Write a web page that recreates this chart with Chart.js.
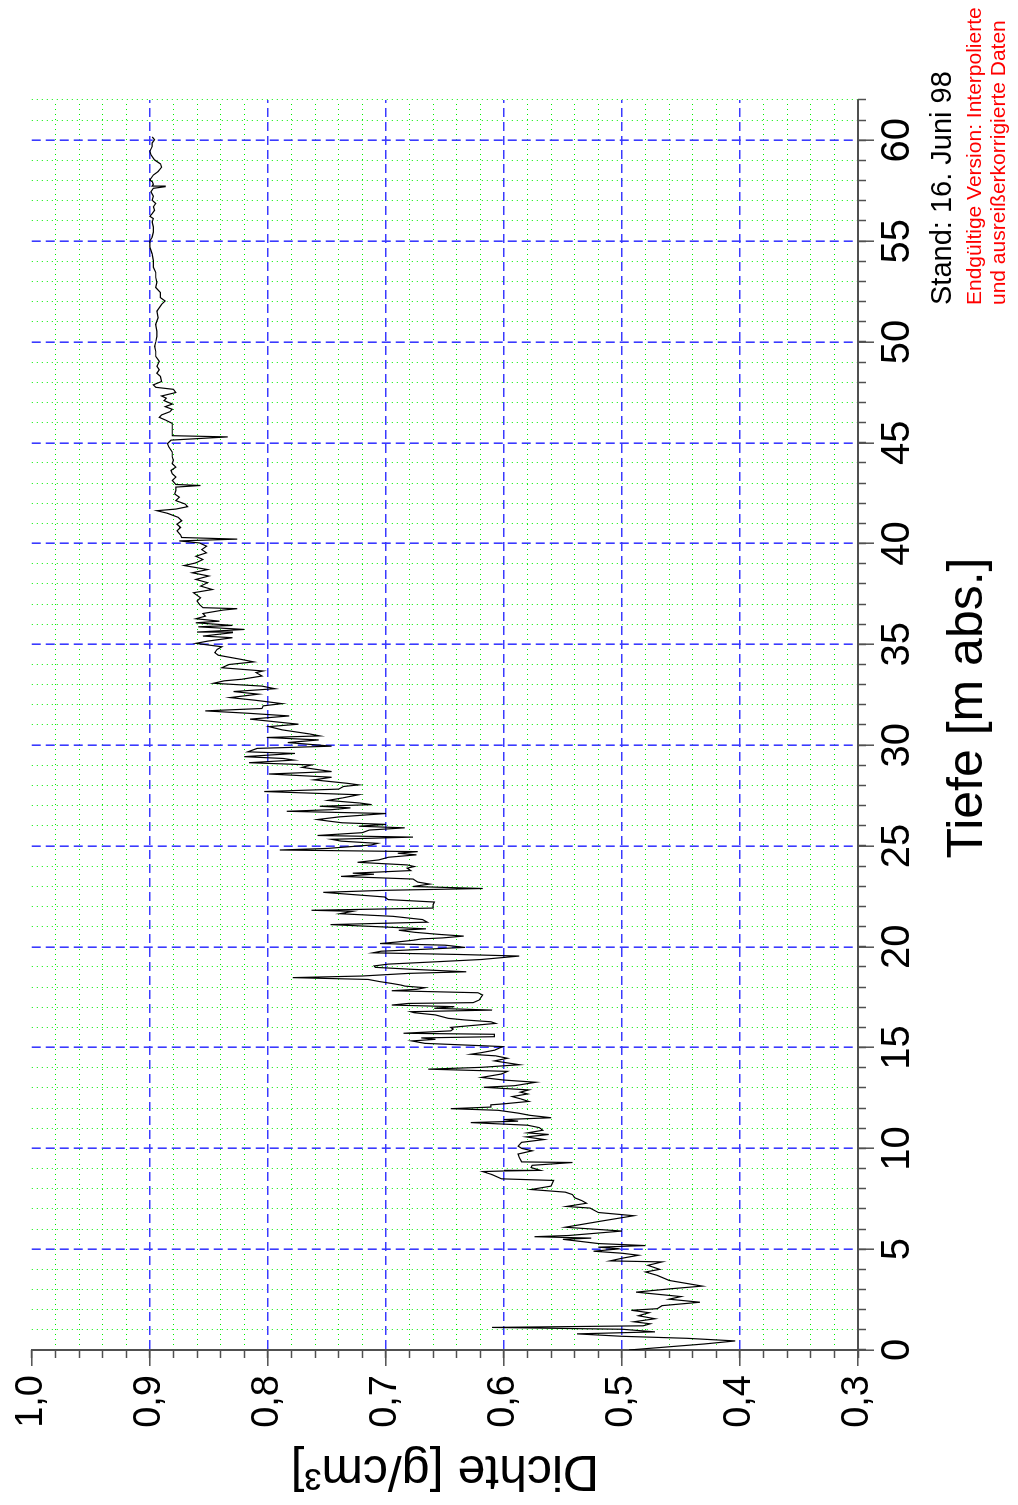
<!DOCTYPE html>
<html>
<head>
<meta charset="utf-8">
<script src="https://cdn.jsdelivr.net/npm/chart.js@4.4.1/dist/chart.umd.min.js"></script>
<style>
html,body{margin:0;padding:0;width:1018px;height:1505px;overflow:hidden;background:#fff;}
#wrap{position:absolute;left:0;top:0;width:1505px;height:1018px;transform-origin:0 0;transform:translateY(1505px) rotate(-90deg);}
#c{position:absolute;left:0;top:0;}
.note{position:absolute;white-space:nowrap;line-height:1;font-family:'Liberation Sans',Arial,Helvetica,sans-serif;}
</style>
</head>
<body>
<div id="wrap">
  <canvas id="c" width="1505" height="1018"></canvas>
  <div class="note" id="xtitle" style="left:497px;width:600px;text-align:center;top:940px;font-size:50px;color:#000;"></div>
  <div class="note" style="left:1200px;top:927px;font-size:29px;color:#000;">Stand: 16. Juni 98</div>
  <div class="note" style="left:1200px;top:963px;font-size:21px;color:#f00;">Endgültige Version: Interpolierte</div>
  <div class="note" style="left:1200px;top:987px;font-size:21px;color:#f00;">und ausreißerkorrigierte Daten</div>
</div>
<script>
// Depth [m abs.] of each sample
const depth = [
0,0.15,0.3,0.45,0.58,0.68,0.8,0.9,1.03,1.12,
1.2,1.3,1.4,1.55,1.7,1.85,1.97,2.05,2.2,2.37,
2.52,2.65,2.87,3.03,3.17,3.3,3.45,3.7,3.87,4,
4.2,4.37,4.42,4.55,4.7,4.8,4.9,5.02,5.1,5.18,
5.28,5.49,5.55,5.62,5.68,5.9,6.09,6.37,6.66,6.82,
7.04,7.12,7.28,7.41,7.55,7.71,7.83,7.96,8.13,8.41,
8.49,8.7,8.85,8.88,8.91,9.05,9.16,9.3,9.33,9.55,
9.72,9.88,10,10.11,10.3,10.44,10.57,10.69,10.77,10.9,
11.03,11.15,11.28,11.35,11.43,11.52,11.64,11.75,11.89,11.97,
12.05,12.16,12.21,12.33,12.46,12.57,12.7,12.79,12.9,13.03,
13.11,13.28,13.39,13.52,13.69,13.82,13.93,14.02,14.15,14.34,
14.47,14.59,14.67,14.75,14.87,15.05,15.12,15.21,15.33,15.41,
15.48,15.54,15.66,15.71,15.83,15.92,16,16.2,16.28,16.37,
16.45,16.62,16.73,16.78,16.86,16.95,17.03,17.11,17.19,17.23,
17.36,17.44,17.61,17.72,17.82,17.89,17.97,18.05,18.1,18.18,
18.27,18.38,18.47,18.55,18.68,18.76,18.88,18.98,19.05,19.14,
19.26,19.37,19.54,19.62,19.7,19.78,19.87,19.97,20.08,20.16,
20.24,20.33,20.39,20.44,20.53,20.61,20.72,20.82,20.89,20.95,
21.1,21.22,21.35,21.51,21.64,21.76,21.81,21.92,22.09,22.22,
22.34,22.47,22.7,22.8,22.89,22.99,23.11,23.21,23.36,23.49,
23.6,23.65,23.78,23.9,23.98,24.06,24.19,24.31,24.44,24.56,
24.64,24.72,24.8,24.88,25.05,25.13,25.24,25.33,25.44,25.52,
25.66,25.79,25.9,25.98,26.07,26.15,26.23,26.31,26.44,26.61,
26.72,26.8,26.89,26.97,27.05,27.13,27.26,27.38,27.54,27.7,
27.82,27.95,28.03,28.11,28.28,28.41,28.57,28.69,28.9,29.02,
29.13,29.26,29.34,29.43,29.59,29.67,29.84,29.95,30.13,30.26,
30.38,30.46,30.56,30.76,30.92,31.04,31.29,31.45,31.58,31.7,
31.82,31.95,32.06,32.23,32.36,32.53,32.66,32.8,32.93,33.07,
33.19,33.27,33.43,33.6,33.68,33.84,34,34.13,34.26,34.46,
34.59,34.75,34.88,35.05,35.16,35.33,35.41,35.58,35.61,35.74,
35.87,35.94,36.07,36.15,36.27,36.4,36.53,36.7,36.77,36.82,
36.98,37.15,37.31,37.56,37.72,37.89,38.06,38.22,38.39,38.55,
38.71,38.91,39.04,39.21,39.37,39.54,39.7,39.87,40.03,40.13,
40.22,40.3,40.43,40.63,40.8,40.96,41.13,41.3,41.5,41.63,
41.71,41.83,41.96,42.13,42.3,42.46,42.63,42.8,42.88,42.93,
43.13,43.3,43.46,43.63,43.79,43.96,44.13,44.3,44.54,44.8,
44.96,45.13,45.29,45.35,45.62,45.79,45.96,46.13,46.26,46.38,
46.54,46.66,46.79,46.92,47.09,47.21,47.32,47.49,47.65,47.75,
47.87,48.04,48.29,48.45,48.62,48.79,49.04,49.28,49.53,49.78,
50,50.27,50.53,50.87,51.2,51.53,51.87,52.03,52.2,52.45,
52.7,52.95,53.2,53.45,53.7,54.03,54.37,54.7,55,55.2,
55.45,55.7,55.95,56.12,56.23,56.37,56.53,56.7,56.87,57.03,
57.23,57.45,57.62,57.7,57.73,57.82,57.95,58.03,58.28,58.45,
58.67,58.83,59.03,59.28,59.45,59.7,59.87,60.03,60.17
];
// Density [g/cm3] of each sample
const density = [
.494,.462,.43,.404,.445,.5,.538,.472,.5,.61,
.482,.476,.49,.472,.486,.477,.492,.47,.466,.434,
.46,.45,.488,.46,.432,.445,.46,.47,.48,.468,
.478,.466,.51,.5,.486,.5,.524,.502,.52,.48,
.52,.55,.526,.574,.545,.5,.548,.52,.49,.52,
.527,.547,.53,.534,.54,.542,.548,.577,.56,.558,
.602,.61,.618,.6,.569,.577,.576,.542,.585,.587,
.588,.576,.585,.588,.585,.566,.581,.562,.58,.567,
.57,.58,.628,.588,.6,.56,.578,.588,.605,.645,
.611,.611,.6,.579,.586,.593,.58,.586,.579,.617,
.591,.573,.6,.619,.602,.597,.664,.619,.587,.608,
.597,.607,.628,.619,.608,.601,.63,.667,.678,.658,
.67,.608,.608,.685,.645,.643,.645,.607,.611,.633,
.647,.658,.676,.679,.61,.659,.642,.695,.681,.626,
.621,.62,.618,.622,.695,.674,.667,.684,.687,.695,
.705,.715,.779,.72,.681,.632,.677,.709,.71,.698,
.656,.619,.587,.639,.711,.704,.67,.633,.65,.705,
.69,.676,.67,.652,.634,.654,.676,.689,.666,.689,
.747,.665,.669,.694,.739,.728,.763,.66,.66,.659,
.698,.701,.753,.701,.618,.677,.663,.673,.677,.738,
.71,.728,.679,.682,.676,.682,.724,.706,.698,.674,
.69,.673,.79,.749,.712,.707,.738,.746,.677,.758,
.72,.714,.684,.723,.7,.737,.748,.758,.74,.7,
.784,.746,.73,.756,.712,.722,.749,.737,.723,.803,
.74,.736,.723,.733,.761,.746,.799,.746,.771,.763,
.816,.778,.787,.82,.777,.817,.809,.746,.783,.757,
.801,.756,.765,.788,.799,.774,.815,.782,.816,.853,
.805,.804,.788,.811,.832,.808,.829,.794,.805,.846,
.837,.822,.805,.81,.804,.839,.833,.812,.823,.842,
.845,.843,.839,.861,.851,.83,.855,.83,.86,.82,
.859,.83,.861,.841,.861,.853,.855,.838,.826,.855,
.858,.86,.857,.863,.847,.857,.851,.861,.85,.864,
.851,.871,.861,.855,.861,.852,.856,.852,.858,.875,
.826,.873,.874,.877,.874,.877,.873,.876,.885,.894,
.878,.868,.87,.878,.875,.879,.878,.878,.857,.878,
.881,.878,.881,.882,.878,.881,.88,.881,.881,.884,
.885,.882,.834,.881,.881,.881,.881,.887,.892,.89,
.883,.881,.887,.881,.888,.886,.89,.878,.88,.895,
.897,.89,.891,.894,.892,.894,.892,.895,.895,.896,
.895,.894,.894,.895,.893,.894,.89,.887,.891,.891,
.895,.894,.895,.895,.897,.897,.898,.9,.9,.898,
.897,.897,.898,.897,.9,.898,.896,.897,.895,.898,
.897,.899,.897,.887,.898,.897,.898,.9,.897,.893,
.89,.891,.896,.899,.9,.898,.898,.896,.898
];
// Axis ranges and tick steps
const depthRange = [0, 62];
const depthSteps = [5, 1];        // major, minor
const densityRange = [0.3, 1.0];
const densitySteps = [0.1, 0.02]; // major, minor
const xTitle = 'Tiefe [m abs.]';
const yTitle = 'Dichte [g/cm³]';

document.getElementById('xtitle').textContent = xTitle;
Chart.defaults.font.family = "'Liberation Sans', Arial, Helvetica, sans-serif";

const n = Math.min(depth.length, density.length);
const points = [];
for (let i = 0; i < n; i++) points.push({x: depth[i], y: density[i]});

const isMult = (v, s) => Math.abs(v / s - Math.round(v / s)) < 1e-6;
const AX = '#505050';
const BLUE = '#3a3aff';
const GREEN = '#00f000';
const NONE = 'rgba(0,0,0,0)';

new Chart(document.getElementById('c'), {
  type: 'scatter',
  data: {datasets: [{
    data: points, showLine: true, borderColor: '#000', borderWidth: 1.2,
    pointRadius: 0, pointHoverRadius: 0, fill: false, tension: 0
  }]},
  options: {
    responsive: false, animation: false, events: [],
    layout: {padding: {top: 30, right: 100, left: 0, bottom: 0}},
    plugins: {legend: {display: false}, tooltip: {enabled: false}},
    scales: {
      x2: {
        type: 'linear', position: 'bottom', weight: -1,
        min: depthRange[0], max: depthRange[1],
        ticks: {display: false, stepSize: depthSteps[1]},
        grid: {
          color: c => isMult(c.tick.value, depthSteps[0]) ? NONE : GREEN,
          lineWidth: 1, drawTicks: true, tickLength: 8, tickColor: AX, tickWidth: 1.5, z: -2
        },
        border: {display: false, dash: [1, 4]},
        afterFit: s => { s.height = 0; }
      },
      x: {
        type: 'linear', position: 'bottom',
        min: depthRange[0], max: depthRange[1],
        ticks: {
          stepSize: depthSteps[0], includeBounds: false, autoSkip: false, maxRotation: 0, minRotation: 0,
          font: {size: 40}, color: '#000', padding: 0,
          callback: v => isMult(v, depthSteps[0]) ? String(Math.round(v)) : ''
        },
        grid: {
          color: c => (isMult(c.tick.value, depthSteps[0]) && c.tick.value > 0) ? BLUE : NONE,
          lineWidth: 1.6, tickLength: 16,
          tickColor: c => isMult(c.tick.value, depthSteps[0]) ? AX : NONE,
          tickWidth: 1.5, z: -1
        },
        border: {display: true, color: AX, width: 2, dash: [9, 5]},
        title: {display: false},
        afterFit: s => { s.height = 160; }
      },
      y2: {
        type: 'linear', position: 'left', weight: -1,
        min: densityRange[0], max: densityRange[1],
        ticks: {display: false, stepSize: densitySteps[1]},
        grid: {
          color: c => isMult(c.tick.value, densitySteps[0]) ? NONE : GREEN,
          lineWidth: 1, drawTicks: true, tickLength: 8, tickColor: AX, tickWidth: 1.5, z: -2
        },
        border: {display: false, dash: [1, 4]},
        afterFit: s => { s.width = 0; }
      },
      y: {
        type: 'linear', position: 'left',
        min: densityRange[0], max: densityRange[1],
        ticks: {
          stepSize: densitySteps[0], autoSkip: false, font: {size: 38}, color: '#000', padding: 9,
          callback: v => (Math.round(v * 10) / 10).toFixed(1).replace('.', ',')
        },
        grid: {
          color: c => {
            const v = c.tick.value;
            return (v > densityRange[0] + 1e-6 && v < densityRange[1] - 1e-6) ? BLUE : NONE;
          },
          lineWidth: 1.6, tickLength: 16, tickColor: AX, tickWidth: 1.5, z: -1
        },
        border: {display: true, color: AX, width: 2, dash: [9, 5]},
        title: {display: true, text: yTitle, color: '#000', font: {size: 50}, padding: {top: 5, bottom: 0}},
        afterFit: s => { s.width = 155; }
      }
    }
  }
});
</script>
</body>
</html>
